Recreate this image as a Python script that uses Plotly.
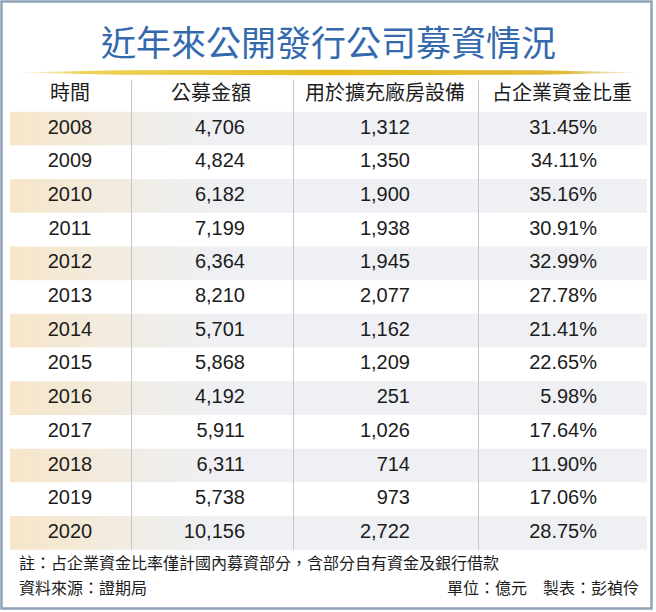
import plotly.graph_objects as go

# ---------------- data ----------------
years = [2008, 2009, 2010, 2011, 2012, 2013, 2014, 2015, 2016, 2017, 2018, 2019, 2020]
amount = [4706, 4824, 6182, 7199, 6364, 8210, 5701, 5868, 4192, 5911, 6311, 5738, 10156]
expansion = [1312, 1350, 1900, 1938, 1945, 2077, 1162, 1209, 251, 1026, 714, 973, 2722]
share = [31.45, 34.11, 35.16, 30.91, 32.99, 27.78, 21.41, 22.65, 5.98, 17.64, 11.90, 17.06, 28.75]
headers = ["時間", "公募金額", "用於擴充廠房設備", "占企業資金比重"]

title = "近年來公開發行公司募資情況"
note = "註：占企業資金比率僅計國內募資部分，含部分自有資金及銀行借款"
source = "資料來源：證期局"
credit = "單位：億元　製表：彭禎伶"

# ---------------- layout constants ----------------
W, H = 656, 612
CJK = "Noto Sans CJK TC"
NUM = "Liberation Sans, Arial, sans-serif"
TXT = "#1c1c1c"
ROW_H = 33.7
FIRST_Y = 128.5
HEADER_Y = 95
TABLE_L, TABLE_R = 10, 647
DIVIDERS = [131.5, 293.5, 478.5]
COL1_C = 70
COL_RIGHT = [245, 410, 597]
HEADER_X = [70, 211, 385, 562]

n = len(years)
ys = [FIRST_Y + i * ROW_H for i in range(n)]
table_top = HEADER_Y - ROW_H / 2
table_bot = ys[-1] + ROW_H / 2

fig = go.Figure()

# striped rows (polygons, horizontal gradient)
sx, sy = [], []
for i, y in enumerate(ys):
    if i % 2 == 0:
        t, b = y - ROW_H / 2, y + ROW_H / 2
        sx += [TABLE_L, TABLE_R, TABLE_R, TABLE_L, TABLE_L, None]
        sy += [t, t, b, b, t, None]
fig.add_trace(go.Scatter(
    x=sx, y=sy, mode="lines", fill="toself", line=dict(width=0),
    fillgradient=dict(type="horizontal",
                      colorscale=[[0, "#f6e6ca"], [0.1, "#f4e9d6"],
                                  [0.2, "#f1ede6"], [0.32, "#eef0f3"], [1, "#eef0f3"]]),
    hoverinfo="skip", showlegend=False))

# gold rule under the title
gx = [15, 120, 330, 540, 641, 540, 330, 120, 15]
gy = [72.5, 70.3, 69.8, 70.3, 72.5, 74.7, 75.2, 74.7, 72.5]
fig.add_trace(go.Scatter(
    x=gx, y=gy, mode="lines", fill="toself", line=dict(width=0),
    fillgradient=dict(type="horizontal",
                      colorscale=[[0, "rgba(246,226,150,0.2)"], [0.1, "#eed35c"],
                                  [0.5, "#e4bb1c"], [0.88, "#dfbb3a"], [1, "rgba(225,205,150,0.3)"]]),
    hoverinfo="skip", showlegend=False))

# headers
fig.add_trace(go.Scatter(
    x=HEADER_X, y=[HEADER_Y] * len(headers), mode="text", text=headers,
    textposition="middle center",
    textfont=dict(family=CJK, size=20, color=TXT),
    hoverinfo="skip", showlegend=False))

# year column
fig.add_trace(go.Scatter(
    x=[COL1_C] * n, y=ys, mode="text", text=[str(v) for v in years],
    textposition="middle center",
    textfont=dict(family=NUM, size=20, color=TXT),
    hoverinfo="skip", showlegend=False))

# value columns
cols = [
    [f"{v:,}" for v in amount],
    [f"{v:,}" for v in expansion],
    [f"{v:.2f}%" for v in share],
]
for xr, txt in zip(COL_RIGHT, cols):
    fig.add_trace(go.Scatter(
        x=[xr] * n, y=ys, mode="text", text=txt,
        textposition="middle left",
        textfont=dict(family=NUM, size=20, color=TXT),
        hoverinfo="skip", showlegend=False))

shapes = []
for dx in DIVIDERS:
    shapes.append(dict(type="line", x0=dx, x1=dx, y0=table_top + 2, y1=table_bot,
                       xref="x", yref="y", line=dict(color="#c4c6c9", width=1)))
# outer frame
shapes.append(dict(type="rect", x0=1.5, x1=651.5, y0=1.5, y1=608.5, xref="x", yref="y",
                   line=dict(color="#8fa2b8", width=2.5), layer="above"))

annotations = [
    dict(x=328, y=40, xref="x", yref="y", text=title, showarrow=False,
         font=dict(family=CJK, size=35, color="#3469ae"), xanchor="center", yanchor="middle"),
    dict(x=17, y=562, xref="x", yref="y", text=note, showarrow=False,
         font=dict(family=CJK, size=16, color=TXT), xanchor="left", yanchor="middle"),
    dict(x=17, y=587, xref="x", yref="y", text=source, showarrow=False,
         font=dict(family=CJK, size=16, color=TXT), xanchor="left", yanchor="middle"),
    dict(x=641, y=587, xref="x", yref="y", text=credit, showarrow=False,
         font=dict(family=CJK, size=16, color=TXT), xanchor="right", yanchor="middle"),
]

fig.update_layout(
    width=W, height=H, margin=dict(l=0, r=0, t=0, b=0),
    paper_bgcolor="white", plot_bgcolor="white",
    xaxis=dict(range=[0, W], visible=False, fixedrange=True),
    yaxis=dict(range=[H, 0], visible=False, fixedrange=True),
    shapes=shapes, annotations=annotations,
)

fig.write_html("out.html", config={"displayModeBar": False},
               post_script="document.body.style.margin='0';document.body.style.overflow='hidden';")
